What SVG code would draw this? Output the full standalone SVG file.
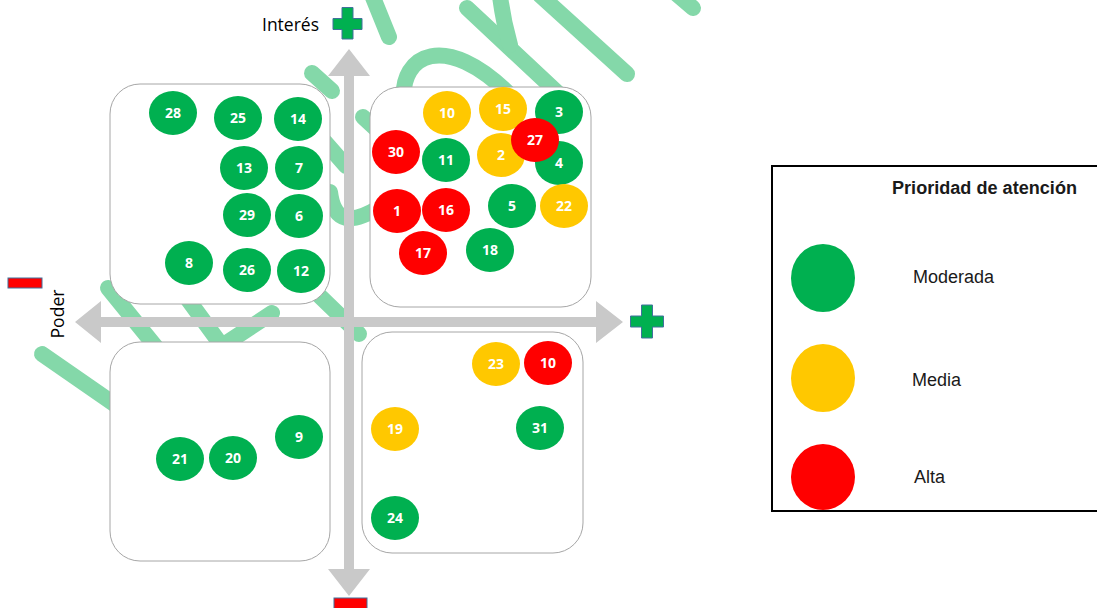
<svg xmlns="http://www.w3.org/2000/svg" width="1097" height="608" viewBox="0 0 1097 608">
<defs>
<style>
.wm{fill:none;stroke:#84D8A9;stroke-width:16;stroke-linecap:round;stroke-linejoin:round}
.box{fill:#FFFFFF;stroke:#A6A6A6;stroke-width:1}
.axis{fill:#C9C9C9}
.g{fill:#00B050}
.y{fill:#FFC800}
.r{fill:#FF0000}
.n{font-family:"Open Sans","Liberation Sans",sans-serif;font-weight:bold;font-size:14px;fill:#FFFFFF;text-anchor:middle}
.lbl{font-family:"Open Sans","Liberation Sans",sans-serif;font-size:17.5px;fill:#000000}
.leg{font-family:"Liberation Sans",Arial,sans-serif;font-size:18px;fill:#1A1A1A}
.sign{stroke:#41719C;stroke-width:1}
</style>
</defs>
<rect width="1097" height="608" fill="#FFFFFF"/>

<g id="watermark">
<path class="wm" d="M372,-5 L389,37"/>
<path class="wm" d="M312,73 L332,91"/>
<path class="wm" d="M363,117 L390,142"/>
<path class="wm" d="M325,142 L346,166"/>
<path class="wm" d="M330,192 C334,224 352,224 380,207"/>
<path class="wm" d="M404,100 C400,55 445,30 510,95"/>
<path class="wm" d="M467,8 L560,95"/>
<path class="wm" d="M500,-4 Q503,20 510,45"/>
<path class="wm" d="M540,-5 L627,74"/>
<path class="wm" d="M672,-10 L693,8"/>
<path class="wm" d="M108,288 L160,352"/>
<path class="wm" d="M181,290 L222,346 L272,313"/>
<path class="wm" d="M300,277 L359,334"/>
<path class="wm" d="M42,354 L130,415"/>
</g>

<g id="quadrant-top-left"><rect class="box" x="110" y="84" width="220" height="220" rx="30"/></g>
<g id="quadrant-top-right"><rect class="box" x="370" y="87" width="221" height="220" rx="30"/></g>
<g id="quadrant-bottom-left"><rect class="box" x="110" y="342" width="220" height="219" rx="30"/></g>
<g id="quadrant-bottom-right"><rect class="box" x="362" y="332" width="221" height="221" rx="30"/></g>

<g id="axes">
<polygon class="axis" points="349,49 370,76 354,76 354,569 370,569 349,596 328,569 344,569 344,76 328,76"/>
<polygon class="axis" points="75,322 101,301 101,317 596,317 596,301 623,322 596,343 596,327 101,327 101,343"/>
</g>

<g id="connectors"></g>

<g id="axis-labels">
<text class="lbl" x="262" y="31" textLength="57" lengthAdjust="spacingAndGlyphs">Interés</text>
<text class="lbl" transform="translate(64,314) rotate(-90)" text-anchor="middle" textLength="49" lengthAdjust="spacingAndGlyphs">Poder</text>
<path class="g sign" d="M342,7.5 H353 V18.5 H362 V29.5 H353 V39 H342 V29.5 H333 V18.5 H342 Z"/>
<path class="g sign" d="M641.5,305 H652.5 V316 H663.5 V327 H652.5 V338 H641.5 V327 H630.5 V316 H641.5 Z"/>
<rect class="r sign" x="8" y="278" width="34" height="10"/>
<rect class="r sign" x="334" y="598" width="33" height="14"/>
</g>

<g id="n28"><ellipse class="g" cx="173" cy="113" rx="24" ry="22"/><text class="n" x="173" y="118">28</text></g>
<g id="n25"><ellipse class="g" cx="238" cy="118" rx="24" ry="22"/><text class="n" x="238" y="123">25</text></g>
<g id="n14"><ellipse class="g" cx="298" cy="119" rx="24" ry="22"/><text class="n" x="298" y="124">14</text></g>
<g id="n13"><ellipse class="g" cx="244" cy="168" rx="24" ry="22"/><text class="n" x="244" y="173">13</text></g>
<g id="n7"><ellipse class="g" cx="299" cy="168" rx="24" ry="22"/><text class="n" x="299" y="173">7</text></g>
<g id="n29"><ellipse class="g" cx="247" cy="215" rx="24" ry="22"/><text class="n" x="247" y="220">29</text></g>
<g id="n6"><ellipse class="g" cx="299" cy="216" rx="24" ry="22"/><text class="n" x="299" y="221">6</text></g>
<g id="n8"><ellipse class="g" cx="189" cy="263" rx="24" ry="22"/><text class="n" x="189" y="268">8</text></g>
<g id="n26"><ellipse class="g" cx="247" cy="270" rx="24" ry="22"/><text class="n" x="247" y="275">26</text></g>
<g id="n12"><ellipse class="g" cx="301" cy="271" rx="24" ry="22"/><text class="n" x="301" y="276">12</text></g>

<g id="n10a"><ellipse class="y" cx="447" cy="113" rx="24" ry="22"/><text class="n" x="447" y="118">10</text></g>
<g id="n15"><ellipse class="y" cx="503" cy="109" rx="24" ry="22"/><text class="n" x="503" y="114">15</text></g>
<g id="n3"><ellipse class="g" cx="559" cy="112" rx="24" ry="22"/><text class="n" x="559" y="117">3</text></g>
<g id="n30"><ellipse class="r" cx="396" cy="152" rx="24" ry="22"/><text class="n" x="396" y="157">30</text></g>
<g id="n11"><ellipse class="g" cx="446" cy="160" rx="24" ry="22"/><text class="n" x="446" y="165">11</text></g>
<g id="n2"><ellipse class="y" cx="501" cy="155" rx="24" ry="22"/><text class="n" x="501" y="160">2</text></g>
<g id="n4"><ellipse class="g" cx="559" cy="163" rx="24" ry="22"/><text class="n" x="559" y="168">4</text></g>
<g id="n1"><ellipse class="r" cx="397" cy="211" rx="24" ry="22"/><text class="n" x="397" y="216">1</text></g>
<g id="n16"><ellipse class="r" cx="446" cy="210" rx="24" ry="22"/><text class="n" x="446" y="215">16</text></g>
<g id="n5"><ellipse class="g" cx="512" cy="206" rx="24" ry="22"/><text class="n" x="512" y="211">5</text></g>
<g id="n22"><ellipse class="y" cx="564" cy="206" rx="24" ry="22"/><text class="n" x="564" y="211">22</text></g>
<g id="n17"><ellipse class="r" cx="423" cy="253" rx="24" ry="22"/><text class="n" x="423" y="258">17</text></g>
<g id="n18"><ellipse class="g" cx="490" cy="250" rx="24" ry="22"/><text class="n" x="490" y="255">18</text></g>
<g id="n27"><ellipse class="r" cx="535" cy="140" rx="24" ry="22"/><text class="n" x="535" y="145">27</text></g>

<g id="n9"><ellipse class="g" cx="299" cy="437" rx="24" ry="22"/><text class="n" x="299" y="442">9</text></g>
<g id="n21"><ellipse class="g" cx="180" cy="459" rx="24" ry="22"/><text class="n" x="180" y="464">21</text></g>
<g id="n20"><ellipse class="g" cx="233" cy="458" rx="24" ry="22"/><text class="n" x="233" y="463">20</text></g>

<g id="n23"><ellipse class="y" cx="496" cy="364" rx="24" ry="22"/><text class="n" x="496" y="369">23</text></g>
<g id="n10b"><ellipse class="r" cx="548" cy="363" rx="24" ry="22"/><text class="n" x="548" y="368">10</text></g>
<g id="n19"><ellipse class="y" cx="395" cy="429" rx="24" ry="22"/><text class="n" x="395" y="434">19</text></g>
<g id="n31"><ellipse class="g" cx="540" cy="428" rx="24" ry="22"/><text class="n" x="540" y="433">31</text></g>
<g id="n24"><ellipse class="g" cx="395" cy="518" rx="24" ry="22"/><text class="n" x="395" y="523">24</text></g>

<g id="legend">
<rect x="772" y="166" width="335" height="345" fill="#FFFFFF" stroke="#000000" stroke-width="2"/>
<text class="leg" x="892" y="194" font-weight="bold" textLength="185" lengthAdjust="spacingAndGlyphs">Prioridad de atención</text>
<ellipse class="g" cx="823" cy="278" rx="32" ry="34"/>
<text class="leg" x="913" y="283">Moderada</text>
<ellipse class="y" cx="823" cy="378" rx="32" ry="34"/>
<text class="leg" x="912" y="386">Media</text>
<ellipse class="r" cx="823" cy="477" rx="32" ry="33"/>
<text class="leg" x="914" y="483">Alta</text>
<rect x="772" y="166" width="335" height="345" fill="none" stroke="#000000" stroke-width="2"/>
</g>
</svg>
